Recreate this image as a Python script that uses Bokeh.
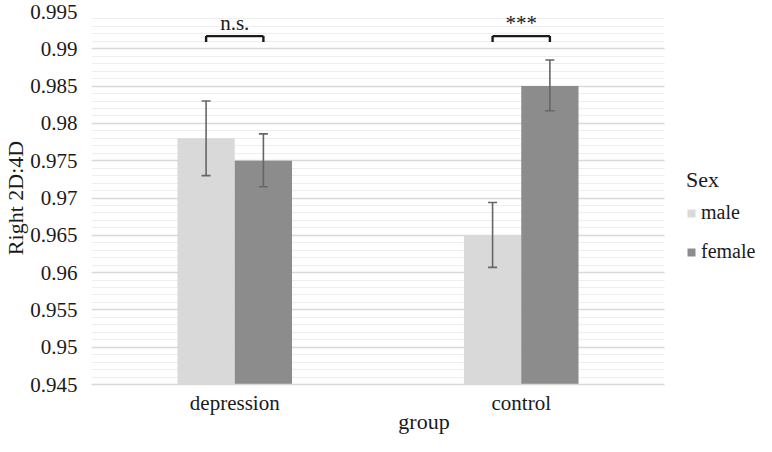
import numpy as np
from bokeh.plotting import figure
from bokeh.models import (Range1d, ColumnDataSource, Legend, LegendItem, FixedTicker)
from bokeh.core.properties import value
from bokeh.embed import file_html
from bokeh.resources import INLINE

# ---- data ----
groups = ["depression", "control"]
sexes = ["male", "female"]
male_mean = [0.978, 0.965]
female_mean = [0.975, 0.985]
male_lower = [0.973, 0.9607]
male_upper = [0.983, 0.9694]
female_lower = [0.9715, 0.9817]
female_upper = [0.9786, 0.9885]
sig_labels = ["n.s.", "***"]
sig_level = [0.9917, 0.9917]
sig_foot = [0.9909, 0.9909]
y_ticks = [0.945, 0.95, 0.955, 0.96, 0.965, 0.97, 0.975, 0.98, 0.985, 0.99, 0.995]
y_tick_labels = ["0.945", "0.95", "0.955", "0.96", "0.965", "0.97", "0.975",
                 "0.98", "0.985", "0.99", "0.995"]
y_min, y_max = 0.945, 0.995

FONT = "Liberation Serif"
MALE_C = "#d9d9d9"
FEMALE_C = "#8c8c8c"
ERR_C = "#666666"
TXT_C = "#1a1a1a"

# group centres on a numeric axis (one unit per group)
centers = [i + 0.5 for i in range(len(groups))]
off = 0.1
w = 0.2
src = ColumnDataSource(dict(
    xc=centers,
    xm=[c - off for c in centers],
    xf=[c + off for c in centers],
    male=male_mean, female=female_mean,
    male_lo=male_lower, male_hi=male_upper,
    female_lo=female_lower, female_hi=female_upper,
    sig=sig_labels, sig_y=sig_level, sig_foot=sig_foot,
    base=[y_min] * len(groups),
))

n = len(groups)
x_end = n * 1.1606  # extra room on the right for the legend

p = figure(width=756, height=436, output_backend="svg", toolbar_location=None,
           x_range=Range1d(0, x_end), y_range=Range1d(y_min, y_max),
           min_border_left=84, min_border_right=0, min_border_top=11,
           min_border_bottom=50)
p.outline_line_color = None
p.background_fill_color = "white"

# bars
r_m = p.vbar(x="xm", top="male", bottom="base", width=w, source=src,
             fill_color=MALE_C, line_color=None)
r_f = p.vbar(x="xf", top="female", bottom="base", width=w, source=src,
             fill_color=FEMALE_C, line_color=None)

# error bars
for xcol, lo, hi in [("xm", "male_lo", "male_hi"), ("xf", "female_lo", "female_hi")]:
    p.segment(x0=xcol, x1=xcol, y0=lo, y1=hi, source=src, line_color=ERR_C, line_width=1.6)
    p.scatter(x=xcol, y=lo, marker="dash", size=9, source=src, line_color=ERR_C, line_width=1.6)
    p.scatter(x=xcol, y=hi, marker="dash", size=9, source=src, line_color=ERR_C, line_width=1.6)

# significance brackets
BR_C = "#1a1a1a"
p.segment(x0="xm", x1="xf", y0="sig_y", y1="sig_y", source=src, line_color=BR_C, line_width=2.4)
p.segment(x0="xm", x1="xm", y0="sig_y", y1="sig_foot", source=src, line_color=BR_C, line_width=2.4)
p.segment(x0="xf", x1="xf", y0="sig_y", y1="sig_foot", source=src, line_color=BR_C, line_width=2.4)
p.text(x="xc", y="sig_y", text="sig", source=src, text_font=value(FONT),
       text_font_size="21px", text_align="center", text_baseline="bottom",
       text_color=TXT_C, y_offset=-1)

# grid
p.xgrid.grid_line_color = None
p.ygrid.grid_line_color = "#d9d9d9"
p.ygrid.grid_line_width = 1.5
p.ygrid.minor_grid_line_color = "#eeeeee"
p.ygrid.minor_grid_line_width = 1
p.ygrid.cross_bounds = (0, n)

# axes
minor = [round(v, 3) for v in np.arange(y_min, y_max + 1e-9, 0.001)]
p.yaxis.ticker = FixedTicker(ticks=y_ticks, minor_ticks=minor)
p.yaxis.major_label_overrides = {t: s for t, s in zip(y_ticks, y_tick_labels)}
p.yaxis.axis_line_color = None
p.yaxis.major_label_standoff = 14
p.yaxis.axis_label = "Right 2D:4D"
p.yaxis.axis_label_standoff = -1

p.xaxis.ticker = FixedTicker(ticks=centers, minor_ticks=[])
p.xaxis.major_label_overrides = {c: g for c, g in zip(centers, groups)}
p.xaxis.bounds = (0, n)
p.xaxis.axis_line_color = "#d9d9d9"
p.xaxis.axis_line_width = 1.5
p.xaxis.major_label_standoff = 6
p.xaxis.axis_label = "group"
p.xaxis.axis_label_standoff = -9

for ax in (p.xaxis, p.yaxis):
    ax.major_tick_line_color = None
    ax.minor_tick_line_color = None
    ax.major_tick_out = 0
    ax.major_tick_in = 0
    ax.minor_tick_out = 0
    ax.minor_tick_in = 0
    ax.major_label_text_font = FONT
    ax.major_label_text_font_size = "21px"
    ax.major_label_text_color = TXT_C
    ax.axis_label_text_font = FONT
    ax.axis_label_text_font_size = "22px"
    ax.axis_label_text_font_style = "normal"
    ax.axis_label_text_color = TXT_C

legend = Legend(items=[LegendItem(label=sexes[0], renderers=[r_m]),
                       LegendItem(label=sexes[1], renderers=[r_f])],
                location=(595, 121), title="Sex", margin=0, padding=0,
                border_line_color=None, background_fill_alpha=0,
                glyph_width=10, glyph_height=10, label_height=20,
                label_standoff=5, spacing=16, title_standoff=8,
                label_text_font=FONT, label_text_font_size="20px",
                label_text_color=TXT_C,
                title_text_font=FONT, title_text_font_size="22px",
                title_text_font_style="normal", title_text_color=TXT_C)
p.add_layout(legend, "center")

open("out.html", "w").write(file_html(p, INLINE))
